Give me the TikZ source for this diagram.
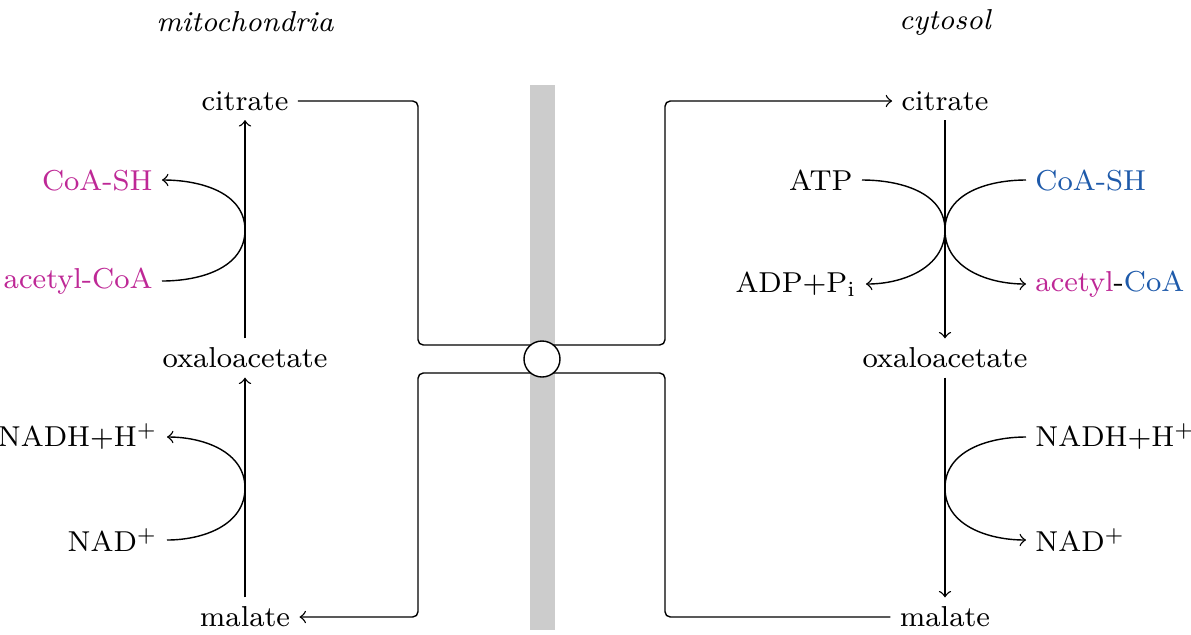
\documentclass[tikz,border=0pt]{standalone}
\usepackage{xcolor}
\usepackage{tikz}
\usetikzlibrary{shapes.geometric}
\definecolor{acmag}{RGB}{190,40,150}
\definecolor{coablue}{RGB}{30,90,170}

\begin{document}
\begin{tikzpicture}[font=\fontsize{8.2}{10}\selectfont,
		metab/.style={inner sep=2.5pt},
		lside/.style={metab,anchor=east},
		rside/.style={metab,anchor=west},
		tube/.style={rounded corners=1.5pt}]
		\useasboundingbox (0,0) rectangle (11.91,-6.34);
		\node (mito) at (2.45,-0.22) {\itshape mitochondria};
		\node (cyto) at (9.45,-0.22) {\itshape cytosol};
		\fill[gray!40] (5.30,-0.85) rectangle (5.55,-6.30);
		\node[metab] (citL) at (2.45,-1.01) {citrate};
		\node[metab] (oxaL) at (2.45,-3.58) {oxaloacetate};
		\node[metab] (malL) at (2.45,-6.17) {malate};
		\node[metab] (citR) at (9.45,-1.01) {citrate};
		\node[metab] (oxaR) at (9.45,-3.58) {oxaloacetate};
		\node[metab] (malR) at (9.45,-6.17) {malate};
		\node[lside] (coaL) at (1.62,-1.80) {\color{acmag}CoA-SH};
		\node[lside] (acL) at (1.62,-2.81) {\color{acmag}acetyl-CoA};
		\node[lside] (nadhL) at (1.67,-4.37) {NADH+H\textsuperscript{+}};
		\node[lside] (nadL) at (1.67,-5.40) {NAD\textsuperscript{+}};
		\node[lside] (atp) at (8.62,-1.80) {ATP};
		\node[lside] (adp) at (8.66,-2.84) {ADP+P$_\mathrm{i}$};
		\node[rside] (coaR) at (10.26,-1.80) {\color{coablue}CoA-SH};
		\node[rside] (acR) at (10.26,-2.84) {\textcolor{acmag}{acetyl}-\textcolor{coablue}{CoA}};
		\node[rside] (nadhR) at (10.26,-4.37) {NADH+H\textsuperscript{+}};
		\node[rside] (nadR) at (10.26,-5.40) {NAD\textsuperscript{+}};
		\coordinate (jL1) at (2.45,-2.30);
		\coordinate (jL2) at (2.45,-4.88);
		\coordinate (jR1) at (9.45,-2.30);
		\coordinate (jR2) at (9.45,-4.88);
		\draw [->] (oxaL) -- (citL);
		\draw [->] (malL) -- (oxaL);
		\draw [->] (citR) -- (oxaR);
		\draw [->] (oxaR) -- (malR);
		\draw [->] (acL.east) to[out=0,in=-90] (jL1) to[out=90,in=0] (coaL.east);
		\draw [->] (nadL.east) to[out=0,in=-90] (jL2) to[out=90,in=0] (nadhL.east);
		\draw [->] (atp.east) to[out=0,in=90] (jR1) to[out=-90,in=0] (adp.east);
		\draw [->] (coaR.west) to[out=180,in=90] (jR1) to[out=-90,in=180] (acR.west);
		\draw [->] (nadhR.west) to[out=180,in=90] (jR2) to[out=-90,in=180] (nadR.west);
		\draw [->,tube] (citL.east) -- (4.18,-1.01) -- (4.18,-3.45) -- (6.65,-3.45) -- (6.65,-1.01) -- (citR.west);
		\draw [->,tube] (malR.west) -- (6.65,-6.17) -- (6.65,-3.73) -- (4.18,-3.73) -- (4.18,-6.17) -- (malL.east);
		\node[circle,draw,fill=white,minimum size=0.36cm,inner sep=0pt] (pore) at (5.42,-3.59) {};
	\end{tikzpicture}
\end{document}
